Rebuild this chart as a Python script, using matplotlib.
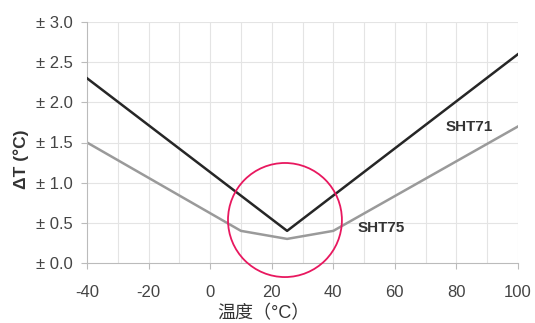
import matplotlib.pyplot as plt
from matplotlib.patches import Ellipse

plt.rcParams['font.family'] = ['Liberation Sans', 'Noto Sans CJK SC', 'DejaVu Sans']

# data
sht71_t = [-40, 25, 100]
sht71_dt = [2.3, 0.4, 2.6]
sht75_t = [-40, 10, 25, 40, 100]
sht75_dt = [1.5, 0.4, 0.3, 0.4, 1.7]
xticks = [-40, -20, 0, 20, 40, 60, 80, 100]
xtick_labels = [str(v) for v in xticks]
yticks = [0.0, 0.5, 1.0, 1.5, 2.0, 2.5, 3.0]
ytick_labels = ["± %.1f" % v for v in yticks]

fig = plt.figure(figsize=(5.35, 3.23), dpi=100)
ax = fig.add_axes([87/535, 1 - 263/323, 431/535, 241/323])

# light grid every 10 degC / 0.5 degC
for x in range(-30, 101, 10):
    ax.axvline(x, color="#e4e4e4", lw=0.8, zorder=0)
for y in yticks[1:]:
    ax.axhline(y, color="#e4e4e4", lw=0.8, zorder=0)

ax.plot(sht75_t, sht75_dt, color="#9a9a9a", lw=1.8, zorder=2)
ax.plot(sht71_t, sht71_dt, color="#262626", lw=1.8, zorder=3)

ax.text(84, 1.69, "SHT71", fontsize=11, fontweight="bold", color="#333333",
        ha="center", va="center")
ax.text(55.5, 0.44, "SHT75", fontsize=11, fontweight="bold", color="#333333",
        ha="center", va="center")

circ = Ellipse((24.3, 0.535), 37, 1.42, fill=False, edgecolor="#e8185f",
               lw=1.3, clip_on=False, zorder=4)
ax.add_patch(circ)

ax.set_xlim(-40, 100)
ax.set_ylim(0, 3.0)
ax.set_xticks(xticks)
ax.set_xticklabels(xtick_labels)
ax.set_yticks(yticks)
ax.set_yticklabels(ytick_labels)
ax.tick_params(axis="both", colors="#bbbbbb", labelcolor="#444444",
               labelsize=12, length=4, width=0.8)
ax.tick_params(axis="x", pad=12)
ax.tick_params(axis="y", pad=6)

for s in ["top", "right"]:
    ax.spines[s].set_visible(False)
for s in ["left", "bottom"]:
    ax.spines[s].set_color("#bbbbbb")
    ax.spines[s].set_linewidth(0.8)

fig.text(21/535, 1 - 159/323, "ΔT (°C)", fontsize=12.5, fontweight="bold",
         color="#333333", rotation=90, ha="center", va="center")
fig.text(263/535, 1 - 314/323, "温度（°C）", fontsize=13, color="#333333",
         ha="center", va="center")

fig.savefig("out.png", dpi=100)
